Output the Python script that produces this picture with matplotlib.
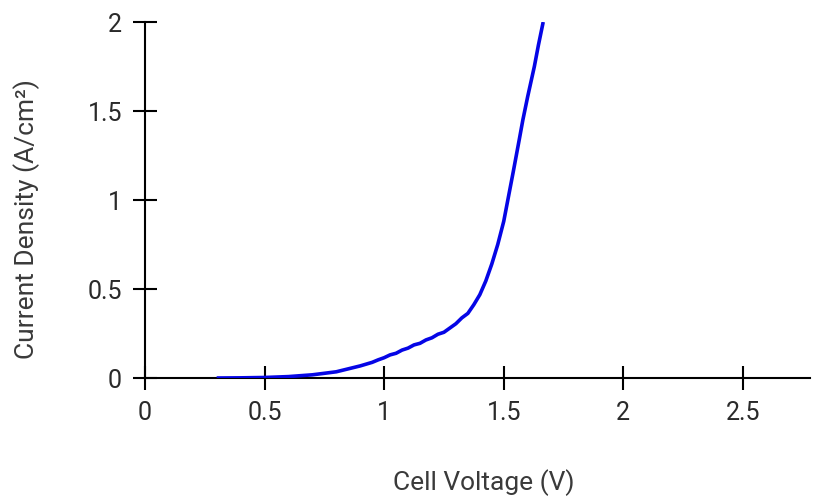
import matplotlib
matplotlib.use('Agg')
import matplotlib.pyplot as plt
import numpy as np

# polarization curve: cell voltage (V) vs current density (A/cm^2)
voltage = [0.30, 0.40, 0.50, 0.60, 0.70, 0.80, 0.90, 0.95, 0.975,
           1.00, 1.025, 1.05, 1.075, 1.10, 1.125, 1.15, 1.175, 1.20,
           1.225, 1.25, 1.275, 1.30, 1.325, 1.35, 1.375, 1.40, 1.425,
           1.45, 1.475, 1.50, 1.52, 1.54, 1.565, 1.58, 1.60, 1.628,
           1.645, 1.665]
current = [0.0, 0.001, 0.003, 0.008, 0.018, 0.035, 0.068, 0.088, 0.102,
           0.114, 0.130, 0.139, 0.157, 0.168, 0.186, 0.195, 0.214, 0.226,
           0.246, 0.257, 0.281, 0.305, 0.338, 0.363, 0.412, 0.468, 0.545,
           0.64, 0.75, 0.88, 1.02, 1.16, 1.34, 1.45, 1.58, 1.75,
           1.87, 2.0]

x_ticks = [0, 0.5, 1, 1.5, 2, 2.5]
x_tick_labels = ['0', '0.5', '1', '1.5', '2', '2.5']
y_ticks = [0, 0.5, 1, 1.5, 2]
y_tick_labels = ['0', '0.5', '1', '1.5', '2']

plt.rcParams['font.family'] = ['Roboto', 'DejaVu Sans']

fig = plt.figure(figsize=(8.14, 4.97), dpi=100)
ax = fig.add_axes([0.178, 0.2394, 0.817, 0.7163])

ax.plot(voltage, current, color='#0505e6', lw=2.6, solid_capstyle='butt',
        solid_joinstyle='round', zorder=3)

ax.set_xlim(0, 2.78)
ax.set_ylim(0, 2)
ax.set_xticks(x_ticks)
ax.set_xticklabels(x_tick_labels)
ax.set_yticks(y_ticks)
ax.set_yticklabels(y_tick_labels)

for side in ['top', 'right']:
    ax.spines[side].set_visible(False)
for side in ['left', 'bottom']:
    ax.spines[side].set_linewidth(1.5)
    ax.spines[side].set_color('black')

ax.tick_params(direction='inout', length=17, width=1.5, labelsize=18,
               colors='black', labelcolor='#2a2a2a')
ax.tick_params(axis='x', pad=8)
ax.tick_params(axis='y', pad=8)

ax.set_xlabel('Cell Voltage (V)', fontsize=19, color='#3a3a3a')
ax.set_ylabel('Current Density (A/cm²)', fontsize=19, color='#3a3a3a')
ax.xaxis.set_label_coords(0.509, -0.257)
ax.yaxis.set_label_coords(-0.158, 0.447)

fig.savefig('out.png', dpi=100)
